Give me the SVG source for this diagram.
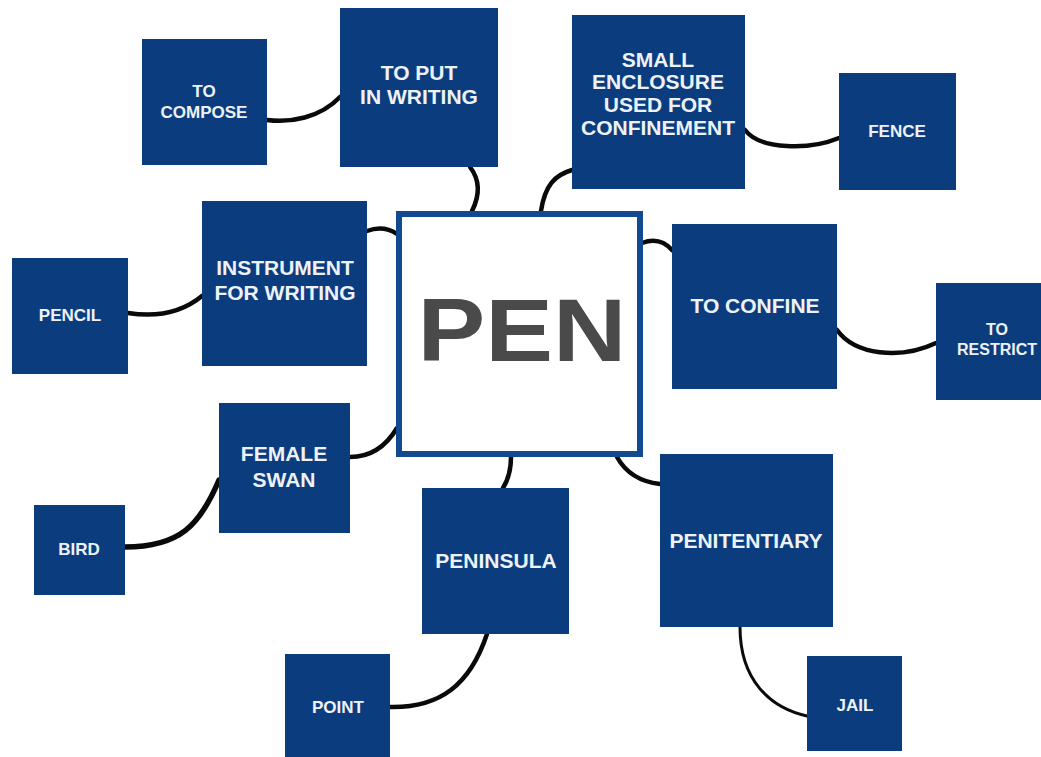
<svg xmlns="http://www.w3.org/2000/svg" width="1041" height="757" viewBox="0 0 1041 757">
<style>
.n{fill:#0b3d7e}
.t{font-family:"Liberation Sans",Arial,sans-serif;font-weight:bold;fill:#eef2f7;text-anchor:middle}
.l{font-size:21px}
.s{font-size:17px}
.c{fill:none;stroke:#0a0a0a;stroke-width:4.5;stroke-linecap:round}
</style>
<rect width="1041" height="757" fill="#ffffff"/>
<g id="connectors">
<path class="c" d="M267,120 C290,123 320,118 340,97"/>
<path class="c" d="M470,167 C480,180 480,195 472,211"/>
<path class="c" d="M572,170 C555,175 545,185 541,211"/>
<path class="c" d="M745,130 C760,150 810,150 839,138"/>
<path class="c" d="M642,243 C655,238 665,242 672,250"/>
<path class="c" d="M837,330 C855,355 900,360 936,343"/>
<path class="c" d="M617,457 C627,475 642,482 660,484"/>
<path class="c" d="M740,627 C740,680 770,708 807,716" style="stroke-width:3"/>
<path class="c" d="M511,457 C511,470 508,480 503,488"/>
<path class="c" d="M487,634 C470,685 440,708 390,707"/>
<path class="c" d="M397,428 C385,448 370,457 350,457"/>
<path class="c" d="M219,480 C200,525 180,547 125,547" style="stroke-width:5.5"/>
<path class="c" d="M128,313 C160,318 185,310 202,296"/>
<path class="c" d="M367,231 C378,227 388,228 397,234"/>
</g>
<g id="pen">
<rect x="399" y="214" width="241" height="240" fill="#ffffff" stroke="#114a8f" stroke-width="6"/>
<text x="522" y="361" font-family="Liberation Sans,Arial,sans-serif" font-weight="bold" font-size="89" fill="#4a4a4a" text-anchor="middle" textLength="209" lengthAdjust="spacingAndGlyphs">PEN</text>
</g>
<g id="to-compose">
<rect class="n" x="142" y="39" width="125" height="126"/>
<text class="t s" x="204" y="97">TO</text>
<text class="t s" x="204" y="118">COMPOSE</text>
</g>
<g id="to-put-in-writing">
<rect class="n" x="340" y="8" width="158" height="159"/>
<text class="t l" x="419" y="80">TO PUT</text>
<text class="t l" x="419" y="104">IN WRITING</text>
</g>
<g id="small-enclosure">
<rect class="n" x="572" y="15" width="173" height="174"/>
<text class="t l" x="658" y="67">SMALL</text>
<text class="t l" x="658" y="89">ENCLOSURE</text>
<text class="t l" x="658" y="112">USED FOR</text>
<text class="t l" x="658" y="135">CONFINEMENT</text>
</g>
<g id="fence">
<rect class="n" x="839" y="73" width="117" height="117"/>
<text class="t s" x="897" y="137">FENCE</text>
</g>
<g id="instrument">
<rect class="n" x="202" y="201" width="165" height="165"/>
<text class="t l" x="285" y="275">INSTRUMENT</text>
<text class="t l" x="285" y="300">FOR WRITING</text>
</g>
<g id="pencil">
<rect class="n" x="12" y="258" width="116" height="116"/>
<text class="t s" x="70" y="321">PENCIL</text>
</g>
<g id="to-confine">
<rect class="n" x="672" y="224" width="165" height="165"/>
<text class="t l" x="755" y="313">TO CONFINE</text>
</g>
<g id="to-restrict">
<rect class="n" x="936" y="283" width="125" height="117"/>
<text class="t" x="997" y="335" font-size="16">TO</text>
<text class="t" x="997" y="355" font-size="16">RESTRICT</text>
</g>
<g id="female-swan">
<rect class="n" x="219" y="403" width="131" height="130"/>
<text class="t l" x="284" y="461">FEMALE</text>
<text class="t l" x="284" y="487">SWAN</text>
</g>
<g id="bird">
<rect class="n" x="34" y="505" width="91" height="90"/>
<text class="t s" x="79" y="555">BIRD</text>
</g>
<g id="peninsula">
<rect class="n" x="422" y="488" width="147" height="146"/>
<text class="t l" x="496" y="568">PENINSULA</text>
</g>
<g id="penitentiary">
<rect class="n" x="660" y="454" width="173" height="173"/>
<text class="t l" x="746" y="548">PENITENTIARY</text>
</g>
<g id="point">
<rect class="n" x="285" y="654" width="105" height="105"/>
<text class="t s" x="338" y="713">POINT</text>
</g>
<g id="jail">
<rect class="n" x="807" y="656" width="95" height="95"/>
<text class="t s" x="855" y="711">JAIL</text>
</g>
</svg>
